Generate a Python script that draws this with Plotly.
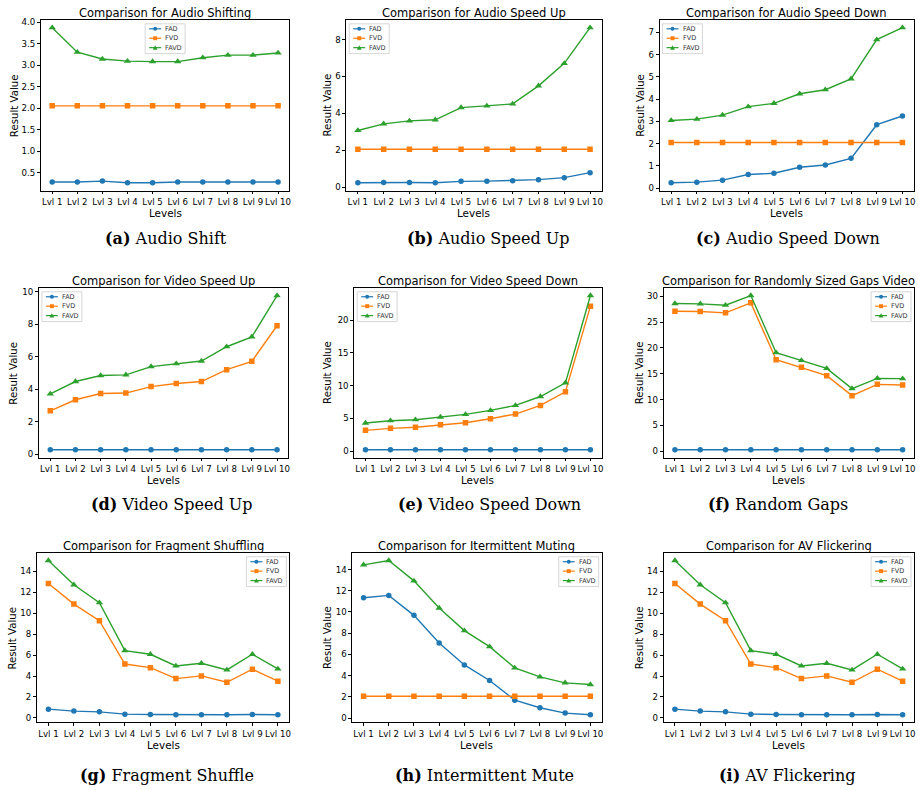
import plotly.graph_objects as go

# ---------------- data ----------------
levels = ["Lvl 1", "Lvl 2", "Lvl 3", "Lvl 4", "Lvl 5", "Lvl 6", "Lvl 7", "Lvl 8", "Lvl 9", "Lvl 10"]
series_names = ["FAD", "FVD", "FAVD"]

audio_shift_fad = [0.28, 0.28, 0.30, 0.26, 0.26, 0.28, 0.28, 0.28, 0.28, 0.28]
audio_shift_fvd = [2.05, 2.05, 2.05, 2.05, 2.05, 2.05, 2.05, 2.05, 2.05, 2.05]
audio_shift_favd = [3.87, 3.30, 3.14, 3.09, 3.08, 3.08, 3.17, 3.23, 3.23, 3.28]

audio_up_fad = [0.23, 0.25, 0.25, 0.23, 0.31, 0.32, 0.34, 0.40, 0.51, 0.78]
audio_up_fvd = [2.05, 2.05, 2.05, 2.05, 2.05, 2.05, 2.05, 2.05, 2.05, 2.05]
audio_up_favd = [3.07, 3.43, 3.59, 3.65, 4.31, 4.40, 4.51, 5.49, 6.71, 8.65]

audio_down_fad = [0.24, 0.27, 0.36, 0.61, 0.67, 0.94, 1.04, 1.34, 2.85, 3.24]
audio_down_fvd = [2.05, 2.05, 2.05, 2.05, 2.05, 2.05, 2.05, 2.05, 2.05, 2.05]
audio_down_favd = [3.04, 3.10, 3.28, 3.66, 3.81, 4.24, 4.42, 4.91, 6.67, 7.21]

video_up_fad = [0.27, 0.27, 0.27, 0.27, 0.27, 0.27, 0.27, 0.27, 0.27, 0.27]
video_up_fvd = [2.67, 3.35, 3.73, 3.76, 4.16, 4.35, 4.47, 5.20, 5.71, 7.90]
video_up_favd = [3.71, 4.47, 4.84, 4.88, 5.39, 5.57, 5.73, 6.61, 7.22, 9.76]

video_down_fad = [0.22, 0.22, 0.22, 0.22, 0.22, 0.22, 0.22, 0.22, 0.22, 0.22]
video_down_fvd = [3.19, 3.49, 3.65, 4.05, 4.35, 4.96, 5.67, 6.99, 9.06, 22.13]
video_down_favd = [4.30, 4.66, 4.81, 5.22, 5.62, 6.23, 6.99, 8.35, 10.43, 23.75]

gaps_fad = [0.26, 0.26, 0.26, 0.26, 0.26, 0.26, 0.26, 0.26, 0.26, 0.26]
gaps_fvd = [27.11, 27.04, 26.79, 28.72, 17.71, 16.23, 14.62, 10.75, 12.94, 12.81]
gaps_favd = [28.59, 28.53, 28.27, 30.14, 19.06, 17.58, 16.03, 12.11, 14.10, 14.04]

shuffle_fad = [0.83, 0.64, 0.57, 0.35, 0.32, 0.29, 0.29, 0.29, 0.32, 0.29]
shuffle_fvd = [12.85, 10.88, 9.29, 5.15, 4.80, 3.75, 4.01, 3.40, 4.65, 3.50]
shuffle_favd = [15.05, 12.73, 11.01, 6.43, 6.08, 4.96, 5.22, 4.58, 6.08, 4.68]

mute_fad = [11.34, 11.56, 9.68, 7.08, 5.01, 3.54, 1.69, 0.97, 0.47, 0.31]
mute_fvd = [2.05, 2.05, 2.05, 2.05, 2.05, 2.05, 2.05, 2.05, 2.05, 2.05]
mute_favd = [14.44, 14.85, 12.93, 10.37, 8.24, 6.73, 4.73, 3.88, 3.32, 3.16]

flicker_fad = [0.83, 0.64, 0.57, 0.35, 0.32, 0.29, 0.29, 0.29, 0.32, 0.29]
flicker_fvd = [12.85, 10.88, 9.29, 5.15, 4.80, 3.75, 4.01, 3.40, 4.65, 3.50]
flicker_favd = [15.05, 12.73, 11.01, 6.43, 6.08, 4.96, 5.22, 4.58, 6.08, 4.68]

titles = ["Comparison for Audio Shifting", "Comparison for Audio Speed Up",
          "Comparison for Audio Speed Down", "Comparison for Video Speed Up",
          "Comparison for Video Speed Down", "Comparison for Randomly Sized Gaps Video",
          "Comparison for Fragment Shuffling", "Comparison for Itermittent Muting",
          "Comparison for AV Flickering"]
caption_tags = ["(a)", "(b)", "(c)", "(d)", "(e)", "(f)", "(g)", "(h)", "(i)"]
caption_texts = ["Audio Shift", "Audio Speed Up", "Audio Speed Down", "Video Speed Up",
                 "Video Speed Down", "Random Gaps", "Fragment Shuffle",
                 "Intermittent Mute", "AV Flickering"]

panel_data = [
    (audio_shift_fad, audio_shift_fvd, audio_shift_favd),
    (audio_up_fad, audio_up_fvd, audio_up_favd),
    (audio_down_fad, audio_down_fvd, audio_down_favd),
    (video_up_fad, video_up_fvd, video_up_favd),
    (video_down_fad, video_down_fvd, video_down_favd),
    (gaps_fad, gaps_fvd, gaps_favd),
    (shuffle_fad, shuffle_fvd, shuffle_favd),
    (mute_fad, mute_fvd, mute_favd),
    (flicker_fad, flicker_fvd, flicker_favd),
]

# ---------------- layout / style ----------------
W, H = 918, 790
COLORS = ["#1f77b4", "#ff7f0e", "#2ca02c"]
SYMBOLS = ["circle", "square", "triangle-up"]
MSIZES = [5.5, 5.5, 6.5]

# plot boxes in pixels: (left, top, right, bottom)
boxes = [
    (41, 17, 290, 189), (347, 17, 603, 189), (661, 17, 916, 189),
    (39, 287, 289, 458), (355, 287, 603, 458), (665, 287, 916, 458),
    (37, 554, 290, 725), (353, 554, 603, 725), (665, 554, 916, 725),
]
dticks = [0.5, 2, 1, 2, 5, 5, 2, 2, 2]
tickfmts = [".1f", "d", "d", "d", "d", "d", "d", "d", "d"]
legend_pos = ["center", "left", "left", "left", "left", "right", "right", "right", "right"]
ylabel_offset = [27, 19, 19, 25, 27, 24, 24, 25, 24]
caption_cx = [166, 490, 790, 172, 491, 780, 167, 486, 789]
caption_cy = [237, 505, 778]


def px(x):
    return x / W


def py(y):
    return 1 - y / H


fig = go.Figure()
annotations = []
shapes = []
layout_axes = {}

for i, (data, box) in enumerate(zip(panel_data, boxes)):
    s = "" if i == 0 else str(i + 1)
    l, t, r, b = box
    allv = [v for ser in data for v in ser]
    lo, hi = min(allv), max(allv)
    pad = 0.05 * (hi - lo)
    for k, ser in enumerate(data):
        fig.add_trace(go.Scatter(
            x=levels, y=ser, name=series_names[k], mode="lines+markers",
            xaxis="x" + s, yaxis="y" + s, showlegend=False,
            line=dict(color=COLORS[k], width=1.4),
            marker=dict(symbol=SYMBOLS[k], size=MSIZES[k], color=COLORS[k],
                        line=dict(width=0)),
        ))
    common = dict(showline=True, mirror=True, linecolor="black", linewidth=0.8,
                  ticks="outside", ticklen=3, tickwidth=0.8, tickcolor="black",
                  showgrid=False, zeroline=False,
                  tickfont=dict(family="DejaVu Sans", size=8.6, color="black"))
    layout_axes["xaxis" + s] = dict(common, domain=[px(l), px(r)], anchor="y" + s,
                                    type="category", range=[-0.45, 9.45], tickangle=0)
    layout_axes["yaxis" + s] = dict(common, domain=[py(b), py(t)], anchor="x" + s,
                                    range=[lo - pad, hi + pad], tickmode="linear",
                                    tick0=0, dtick=dticks[i], tickformat=tickfmts[i])

    cx = (l + r) / 2
    # title
    annotations.append(dict(text=titles[i], x=px(cx), y=py(t - 7), xref="paper", yref="paper",
                            showarrow=False, xanchor="center", yanchor="middle",
                            font=dict(family="DejaVu Sans", size=11.5, color="black")))
    # axis titles
    annotations.append(dict(text="Levels", x=px(cx), y=py(b + 22.5), xref="paper", yref="paper",
                            showarrow=False, xanchor="center", yanchor="middle",
                            font=dict(family="DejaVu Sans", size=10.4, color="black")))
    annotations.append(dict(text="Result Value", x=px(l - ylabel_offset[i]), y=py((t + b) / 2),
                            xref="paper", yref="paper", textangle=-90,
                            showarrow=False, xanchor="center", yanchor="middle",
                            font=dict(family="DejaVu Sans", size=10.2, color="black")))
    # caption
    row = i // 3
    annotations.append(dict(text="<b>" + caption_tags[i] + "</b> " + caption_texts[i],
                            x=px(caption_cx[i]), y=py(caption_cy[row]), xref="paper", yref="paper",
                            showarrow=False, xanchor="center", yanchor="middle",
                            font=dict(family="DejaVu Serif", size=16, color="black")))

    # legend (drawn as a small box)
    lw, lh = 40, 30
    if legend_pos[i] == "center":
        lx0 = cx - lw / 2
    elif legend_pos[i] == "left":
        lx0 = l + 3
    else:
        lx0 = r - 3 - lw
    ly0 = t + 4
    shapes.append(dict(type="rect", xref="paper", yref="paper",
                       x0=px(lx0), x1=px(lx0 + lw), y0=py(ly0), y1=py(ly0 + lh),
                       fillcolor="rgba(255,255,255,0.8)", line=dict(color="#cccccc", width=0.8)))
    for k in range(3):
        ry = ly0 + 5 + k * 9.5
        shapes.append(dict(type="line", xref="paper", yref="paper",
                           x0=px(lx0 + 4), x1=px(lx0 + 16), y0=py(ry), y1=py(ry),
                           line=dict(color=COLORS[k], width=1.2)))
        mx = lx0 + 10
        if k == 0:
            shapes.append(dict(type="circle", xref="paper", yref="paper",
                               x0=px(mx - 2), x1=px(mx + 2), y0=py(ry - 2), y1=py(ry + 2),
                               fillcolor=COLORS[k], line=dict(width=0)))
        elif k == 1:
            shapes.append(dict(type="rect", xref="paper", yref="paper",
                               x0=px(mx - 2), x1=px(mx + 2), y0=py(ry - 2), y1=py(ry + 2),
                               fillcolor=COLORS[k], line=dict(width=0)))
        else:
            path = "M {} {} L {} {} L {} {} Z".format(px(mx - 2.4), py(ry + 2), px(mx + 2.4), py(ry + 2),
                                                      px(mx), py(ry - 2.4))
            shapes.append(dict(type="path", xref="paper", yref="paper", path=path,
                               fillcolor=COLORS[k], line=dict(width=0)))
        annotations.append(dict(text=series_names[k], x=px(lx0 + 18), y=py(ry), xref="paper",
                                yref="paper", showarrow=False, xanchor="left", yanchor="middle",
                                font=dict(family="DejaVu Sans", size=6.5, color="#333333")))

fig.update_layout(
    width=W, height=H, autosize=False,
    margin=dict(l=0, r=0, t=0, b=0),
    paper_bgcolor="white", plot_bgcolor="white",
    font=dict(family="DejaVu Sans", color="black"),
    showlegend=False,
    annotations=annotations, shapes=shapes,
    **layout_axes,
)

fig.write_html(
    "out.html",
    config={"displayModeBar": False},
    post_script="document.body.style.margin='0px';"
                "document.documentElement.style.overflow='hidden';"
                "document.body.style.overflow='hidden';",
)
